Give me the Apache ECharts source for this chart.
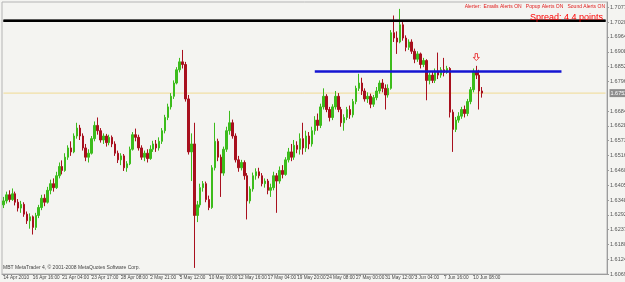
<!DOCTYPE html>
<html><head><meta charset="utf-8">
<script src="https://cdn.jsdelivr.net/npm/echarts@6/dist/echarts.min.js"></script>
<style>html,body{margin:0;padding:0;background:#f4f4f1}#c{width:625px;height:282px}</style>
</head><body><div id="c"></div>
<script>
const dateLabels = ['14 Apr 2010','16 Apr 16:00','21 Apr 04:00','23 Apr 17:00','28 Apr 08:00','2 May 21:00','5 May 12:00','10 May 00:00','12 May 16:00','17 May 04:00','19 May 20:00','24 May 08:00','27 May 00:00','31 May 12:00','3 Jun 04:00','7 Jun 16:00','10 Jun 08:00'];
const opens = [1.6330,1.6345,1.6368,1.6350,1.6372,1.6340,1.6318,1.6332,1.6295,1.6270,
1.6285,1.6245,1.6290,1.6320,1.6355,1.6340,1.6385,1.6410,1.6395,1.6440,
1.6475,1.6460,1.6510,1.6545,1.6530,1.6590,1.6620,1.6590,1.6545,1.6510,
1.6525,1.6580,1.6630,1.6610,1.6575,1.6590,1.6565,1.6585,1.6560,1.6525,
1.6500,1.6515,1.6470,1.6485,1.6540,1.6595,1.6585,1.6545,1.6510,1.6525,
1.6505,1.6540,1.6560,1.6545,1.6570,1.6610,1.6660,1.6700,1.6740,1.6790,
1.6840,1.6870,1.6860,1.6730,1.6530,1.6560,1.6290,1.6330,1.6395,1.6410,
1.6350,1.6320,1.6470,1.6570,1.6510,1.6450,1.6540,1.6610,1.6640,1.6590,
1.6500,1.6470,1.6490,1.6440,1.6345,1.6390,1.6440,1.6455,1.6440,1.6410,
1.6420,1.6385,1.6395,1.6440,1.6420,1.6460,1.6445,1.6500,1.6530,1.6510,
1.6555,1.6540,1.6580,1.6545,1.6590,1.6560,1.6610,1.6650,1.6630,1.6700,
1.6740,1.6690,1.6660,1.6700,1.6740,1.6690,1.6640,1.6660,1.6690,1.6670,
1.6720,1.6770,1.6790,1.6760,1.6730,1.6740,1.6710,1.6735,1.6760,1.6790,
1.6770,1.6745,1.6770,1.6980,1.6960,1.6945,1.7010,1.6960,1.6925,1.6945,
1.6910,1.6880,1.6900,1.6860,1.6875,1.6800,1.6820,1.6800,1.6835,1.6820,
1.6840,1.6830,1.6845,1.6680,1.6615,1.6650,1.6665,1.6690,1.6675,1.6720,
1.6765,1.6835,1.6820,1.6760];
const closes = [1.6345,1.6368,1.6350,1.6372,1.6340,1.6318,1.6332,1.6295,1.6270,1.6285,
1.6245,1.6290,1.6320,1.6355,1.6340,1.6385,1.6410,1.6395,1.6440,1.6475,
1.6460,1.6510,1.6545,1.6530,1.6590,1.6620,1.6590,1.6545,1.6510,1.6525,
1.6580,1.6630,1.6610,1.6575,1.6590,1.6565,1.6585,1.6560,1.6525,1.6500,
1.6515,1.6470,1.6485,1.6540,1.6595,1.6585,1.6545,1.6510,1.6525,1.6505,
1.6540,1.6560,1.6545,1.6570,1.6610,1.6660,1.6700,1.6740,1.6790,1.6840,
1.6870,1.6860,1.6730,1.6530,1.6560,1.6290,1.6330,1.6395,1.6410,1.6350,
1.6320,1.6470,1.6570,1.6510,1.6450,1.6540,1.6610,1.6640,1.6590,1.6500,
1.6470,1.6490,1.6440,1.6345,1.6390,1.6440,1.6455,1.6440,1.6410,1.6420,
1.6385,1.6395,1.6440,1.6420,1.6460,1.6445,1.6500,1.6530,1.6510,1.6555,
1.6540,1.6580,1.6545,1.6590,1.6560,1.6610,1.6650,1.6630,1.6700,1.6740,
1.6690,1.6660,1.6700,1.6740,1.6690,1.6640,1.6660,1.6690,1.6670,1.6720,
1.6770,1.6790,1.6760,1.6730,1.6740,1.6710,1.6735,1.6760,1.6790,1.6770,
1.6745,1.6770,1.6980,1.6960,1.6945,1.7010,1.6960,1.6925,1.6945,1.6910,
1.6880,1.6900,1.6860,1.6875,1.6800,1.6820,1.6800,1.6835,1.6820,1.6840,
1.6830,1.6845,1.6680,1.6615,1.6650,1.6665,1.6690,1.6675,1.6720,1.6765,
1.6835,1.6820,1.6760,1.6752];
const lows = [1.6318,1.6335,1.6340,1.6345,1.6328,1.6305,1.6300,1.6285,1.6258,1.6240,
1.6218,1.6235,1.6280,1.6310,1.6325,1.6335,1.6370,1.6380,1.6390,1.6430,
1.6445,1.6455,1.6500,1.6515,1.6525,1.6580,1.6575,1.6535,1.6495,1.6490,
1.6520,1.6570,1.6595,1.6565,1.6560,1.6550,1.6555,1.6548,1.6515,1.6488,
1.6480,1.6458,1.6455,1.6480,1.6535,1.6570,1.6535,1.6500,1.6495,1.6490,
1.6500,1.6530,1.6530,1.6535,1.6560,1.6600,1.6650,1.6690,1.6730,1.6785,
1.6830,1.6845,1.6720,1.6520,1.6420,1.6092,1.6265,1.6320,1.6380,1.6340,
1.6310,1.6315,1.6460,1.6495,1.6360,1.6440,1.6530,1.6595,1.6580,1.6490,
1.6455,1.6460,1.6425,1.6275,1.6335,1.6380,1.6425,1.6430,1.6400,1.6395,
1.6370,1.6360,1.6385,1.6300,1.6410,1.6430,1.6440,1.6490,1.6495,1.6500,
1.6525,1.6520,1.6520,1.6530,1.6540,1.6550,1.6595,1.6610,1.6620,1.6690,
1.6680,1.6645,1.6650,1.6690,1.6680,1.6625,1.6610,1.6650,1.6655,1.6660,
1.6710,1.6760,1.6745,1.6720,1.6715,1.6695,1.6700,1.6725,1.6750,1.6755,
1.6690,1.6735,1.6765,1.6945,1.6900,1.6940,1.6950,1.6910,1.6915,1.6900,
1.6865,1.6870,1.6845,1.6850,1.6725,1.6785,1.6790,1.6790,1.6805,1.6810,
1.6815,1.6825,1.6660,1.6530,1.6605,1.6640,1.6655,1.6660,1.6665,1.6710,
1.6755,1.6805,1.6690,1.6735];
const highs = [1.6360,1.6380,1.6385,1.6392,1.6380,1.6352,1.6345,1.6340,1.6305,1.6298,
1.6290,1.6300,1.6330,1.6368,1.6370,1.6398,1.6425,1.6430,1.6455,1.6490,
1.6498,1.6525,1.6555,1.6570,1.6600,1.6640,1.6632,1.6600,1.6560,1.6540,
1.6590,1.6645,1.6660,1.6620,1.6600,1.6598,1.6595,1.6592,1.6570,1.6535,
1.6525,1.6522,1.6495,1.6550,1.6605,1.6618,1.6595,1.6555,1.6535,1.6540,
1.6555,1.6572,1.6575,1.6585,1.6620,1.6670,1.6712,1.6752,1.6800,1.6850,
1.6885,1.6915,1.6870,1.6745,1.6600,1.6640,1.6345,1.6410,1.6420,1.6418,
1.6365,1.6480,1.6640,1.6580,1.6520,1.6550,1.6625,1.6685,1.6652,1.6600,
1.6515,1.6500,1.6498,1.6450,1.6400,1.6452,1.6468,1.6470,1.6450,1.6430,
1.6428,1.6410,1.6455,1.6450,1.6475,1.6480,1.6510,1.6545,1.6560,1.6575,
1.6570,1.6600,1.6640,1.6610,1.6605,1.6625,1.6665,1.6675,1.6712,1.6770,
1.6748,1.6700,1.6710,1.6760,1.6752,1.6700,1.6672,1.6700,1.6705,1.6730,
1.6780,1.6825,1.6810,1.6770,1.6755,1.6750,1.6745,1.6775,1.6800,1.6805,
1.6785,1.6785,1.6990,1.7045,1.6985,1.7070,1.7020,1.6970,1.6955,1.6955,
1.6920,1.6910,1.6905,1.6885,1.6880,1.6830,1.6835,1.6845,1.6905,1.6850,
1.6885,1.6855,1.6850,1.6690,1.6662,1.6680,1.6700,1.6705,1.6730,1.6775,
1.6845,1.6855,1.6840,1.6775];
const yTicks = [1.6069,1.6124,1.6180,1.6237,1.6292,1.6348,1.6405,1.6460,1.6516,1.6573,1.6628,1.6684,1.6796,1.6852,1.6908,1.6964,1.7020,1.7077];
const topLevel = 1.7025;
const topHalfWidth = 0.0004;
const blueLevel = 1.6835;
const blueFrom = 106, blueTo = 190;
const currentPrice = 1.6752;
const arrowBar = 161, arrowPrice = 1.6888;

const totalSlots = 206;
const labelEvery = 10;
const categories = [];
for (let i = 0; i < totalSlots; i++) categories.push(String(i));
const firstCat = categories[0], lastCat = categories[totalSlots - 1];
const candleData = opens.map((o, i) => [o, closes[i], lows[i], highs[i]]);
const isLabel = (i) => i % labelEvery === 0 && i / labelEvery < dateLabels.length;

const chart = echarts.init(document.getElementById('c'), null, {renderer: 'canvas'});
const FONT = 'Liberation Sans';
chart.setOption({
  animation: false,
  backgroundColor: '#f4f4f1',
  grid: {left: 2, right: 18, top: 2, bottom: 8, outerBoundsMode: 'none', show: true, borderColor: '#b4b4b4', borderWidth: 1, backgroundColor: 'transparent'},
  xAxis: {
    type: 'category', data: categories, boundaryGap: true,
    axisLine: {lineStyle: {color: '#9c9c9c', width: 1}},
    axisTick: {show: true, length: 2, lineStyle: {color: '#9c9c9c'}, interval: (i) => isLabel(i), alignWithLabel: true},
    axisLabel: {interval: (i) => isLabel(i), formatter: (v, i) => isLabel(i) ? dateLabels[i / labelEvery] : '', fontSize: 4.7, fontFamily: FONT, color: '#444', margin: 1, align: 'left', hideOverlap: false},
    splitLine: {show: false}
  },
  yAxis: {
    type: 'value', position: 'right', min: 1.6069, max: 1.7096,
    axisLine: {show: true, lineStyle: {color: '#9c9c9c', width: 1}},
    axisTick: {show: true, length: 2, customValues: yTicks, lineStyle: {color: '#9c9c9c'}},
    axisLabel: {customValues: yTicks, formatter: (v) => v.toFixed(5), fontSize: 5.5, fontFamily: FONT, color: '#555', margin: 3},
    splitLine: {show: false}
  },
  graphic: [
    {type: 'text', right: 20, top: 4, style: {text: 'Alerter:  Emails Alerts ON   Popup Alerts ON   Sound Alerts ON', fill: '#e01818', font: '5px "Liberation Sans"'}},
    {type: 'text', right: 22, top: 13, z: 10, style: {text: 'Spread: 4.4 points', fill: '#ff0000', font: '9px "Liberation Sans"'}},
    {type: 'text', left: 3, top: 265, style: {text: 'MBT MetaTrader 4, \u00a9 2001-2008 MetaQuotes Software Corp.', fill: '#444', font: '5px "Liberation Sans"'}}
  ],
  series: [
    {
      type: 'candlestick', data: candleData, barWidth: 2, z: 2, animation: false,
      itemStyle: {color: '#3cbc1c', color0: '#a8101e', borderColor: '#3cbc1c', borderColor0: '#a8101e', borderWidth: 1},
      markLine: {
        silent: true, symbol: 'none', animation: false,
        data: [
          [{coord: [String(blueFrom), blueLevel], lineStyle: {color: '#1414d2', width: 2.5, type: 'solid'}, label: {show: false}},
           {coord: [String(blueTo), blueLevel]}]
        ]
      },
      markArea: {
        silent: true, animation: false,
        itemStyle: {color: '#000', opacity: 1},
        label: {show: false},
        data: [[{coord: [firstCat, topLevel - topHalfWidth]}, {coord: [lastCat, topLevel + topHalfWidth]}]]
      },
      markPoint: {
        silent: true, animation: false,
        data: [{coord: [String(arrowBar), arrowPrice]}],
        symbol: 'path://M3,0 L7,0 L7,6 L10,6 L5,11 L0,6 L3,6 Z', symbolSize: [6, 7],
        itemStyle: {color: '#fff5f5', borderColor: '#e21a1a', borderWidth: 0.8},
        label: {show: false}
      }
    },
    {
      type: 'line', name: 'bid', data: [[firstCat, currentPrice], [lastCat, currentPrice]], animation: false,
      showSymbol: false, symbol: 'none', silent: true, z: 1, clip: false,
      lineStyle: {color: '#f0da92', width: 1},
      endLabel: {show: true, formatter: currentPrice.toFixed(5), backgroundColor: '#8e8e8e', color: '#fff', fontSize: 5.5, fontFamily: FONT, padding: [1, 1], distance: 4}
    },
    {
      type: 'line', name: 'top', data: [[firstCat, topLevel], [lastCat, topLevel]], animation: false,
      showSymbol: false, symbol: 'none', silent: true, z: 5, clip: false,
      lineStyle: {color: '#000', width: 2.5}
    }
  ]
});
</script></body></html>
